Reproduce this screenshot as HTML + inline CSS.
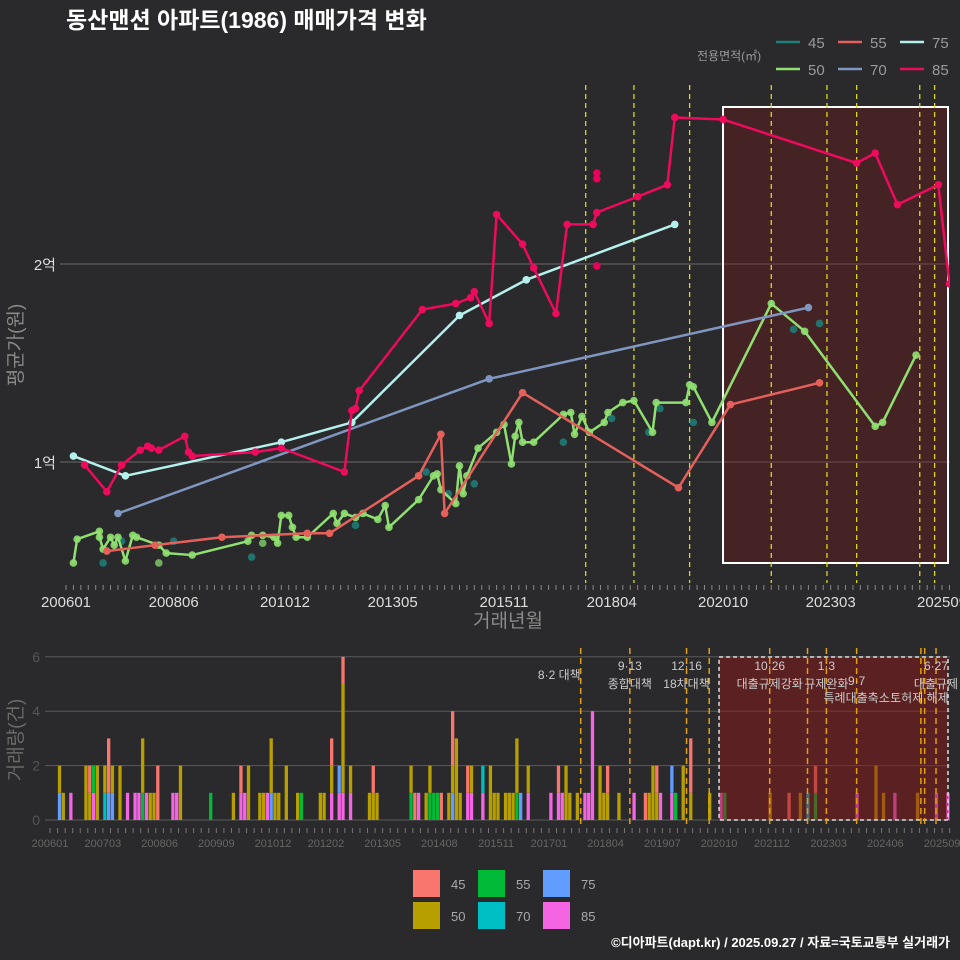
<!DOCTYPE html>
<html><head><meta charset="utf-8">
<style>
html,body{margin:0;padding:0;background:#2a292b;}
body{width:960px;height:960px;overflow:hidden;font-family:"Liberation Sans","Noto Sans CJK KR",sans-serif;}
svg{display:block}
</style></head>
<body>
<svg id="chart" width="960" height="960" viewBox="0 0 960 960" xmlns="http://www.w3.org/2000/svg" font-family="Liberation Sans, Noto Sans CJK KR, sans-serif">
<rect x="0" y="0" width="960" height="960" fill="#2a292b"/>
<text x="66" y="28" fill="#ffffff" font-size="23" font-weight="bold">동산맨션 아파트(1986) 매매가격 변화</text>
<text x="697" y="60" fill="#9a9a9a" font-size="12">전용면적(㎡)</text>
<g id="topLegend"></g>
<defs>
<clipPath id="topClip"><rect x="40" y="85" width="910" height="498"/></clipPath>
<clipPath id="botClip"><rect x="45" y="640" width="905" height="185"/></clipPath>
</defs>
<g id="topPanel"></g>
<g id="botPanel"></g>
<text transform="translate(22,345) rotate(-90)" text-anchor="middle" fill="#8a8a8a" font-size="19">평균가(원)</text>
<text x="508" y="627" text-anchor="middle" fill="#8a8a8a" font-size="19">거래년월</text>
<text transform="translate(22,740) rotate(-90)" text-anchor="middle" fill="#6a6a6a" font-size="19">거래량(건)</text>
<g id="botLegend"></g>
<text x="950" y="947" text-anchor="end" fill="#ffffff" font-size="13" font-weight="bold">©디아파트(dapt.kr) / 2025.09.27 / 자료=국토교통부 실거래가</text>
</svg>
<script>
// ---------- data (months since 2006-01, values in 억) ----------
const s85m=[5,11,15,20,22,23,25,32,33,34,51,58,75,77,78,79,96,105,109,110,114,116,123,126,132,135,142,143,154,162,164,177,213,218,224,235,238];
const s85v=[0.985,0.85,0.985,1.06,1.08,1.07,1.06,1.13,1.05,1.03,1.05,1.07,0.95,1.26,1.27,1.36,1.77,1.80,1.83,1.86,1.70,2.25,2.10,1.98,1.75,2.20,2.20,2.26,2.34,2.40,2.74,2.73,2.51,2.56,2.30,2.40,1.90];
const x85m=[143,143,143];
const x85v=[2.46,2.43,1.99];
const s75m=[2,16,58,77,106,124,164];
const s75v=[1.03,0.93,1.10,1.20,1.74,1.92,2.20];
const s70m=[14,114,200];
const s70v=[0.74,1.42,1.78];
const s55m=[11,24,42,65,71,95,101,102,123,165,179,203];
const s55v=[0.55,0.58,0.62,0.64,0.64,0.93,1.14,0.74,1.35,0.87,1.29,1.40];
const s50m=[2,3,9,9,10,12,13,14,16,18,19,25,27,34,49,50,53,56,57,58,60,61,62,65,72,73,75,78,80,84,86,87,95,99,100,101,105,106,107,108,111,116,118,120,121,122,123,126,134,136,137,139,141,145,146,150,153,158,159,167,168,169,174,190,199,218,220,229];
const s50v=[0.49,0.61,0.65,0.62,0.56,0.62,0.58,0.62,0.50,0.63,0.62,0.58,0.54,0.53,0.60,0.63,0.63,0.62,0.59,0.73,0.73,0.67,0.62,0.62,0.74,0.69,0.74,0.72,0.74,0.71,0.78,0.67,0.81,0.93,0.94,0.86,0.79,0.98,0.84,0.93,1.07,1.15,1.19,0.99,1.13,1.20,1.10,1.10,1.24,1.25,1.14,1.23,1.15,1.20,1.25,1.30,1.31,1.15,1.30,1.30,1.39,1.38,1.20,1.80,1.66,1.18,1.20,1.54];
const x50m=[25,53];
const x50v=[0.49,0.59];
const d45m=[10,15,29,50,78,97,103,110,134,147,157,160,169,196,203];
const d45v=[0.49,0.60,0.60,0.52,0.68,0.95,0.84,0.89,1.10,1.22,1.15,1.27,1.20,1.67,1.70];
const policyMonths=[140,153,168,190,205,213,230,234];
const extraBotLines=[174,200,231];
const topTickLabels=["200601","200806","201012","201305","201511","201804","202010","202303","202509"];
const topTickMonths=[0,29,59,88,118,147,177,206,236];
const yTickValues=[1,2];
const yTickLabels=["1억","2억"];
// volume
const barMonths=[2,3,5,9,10,11,12,14,15,16,18,20,22,23,24,25,26,27,28,32,33,34,42,48,50,51,52,55,56,57,58,59,60,62,65,66,71,72,74,76,77,79,84,85,86,95,96,97,99,100,101,102,103,105,106,107,108,110,111,114,116,117,118,120,121,122,123,124,126,132,134,135,136,137,139,141,142,143,145,146,147,150,154,157,158,159,160,161,164,165,167,169,174,177,178,190,195,198,200,202,213,218,220,223,229,234,237];
const b45=[0,0,0,0,1,0,0,0,2,0,0,0,0,0,0,0,0,0,2,0,0,0,0,0,1,0,0,0,0,0,0,0,0,0,0,0,0,0,1,0,1,0,0,1,0,0,1,0,0,0,0,0,1,0,2,0,0,1,0,0,0,0,0,0,0,0,0,0,0,0,1,0,0,0,0,0,0,0,0,0,1,0,0,1,0,0,1,0,0,0,0,2,0,0,0,0,1,0,0,1,0,0,0,0,0,0,0];
const b50=[1,1,0,2,1,0,2,1,0,1,2,0,0,0,2,0,1,1,0,0,0,2,0,1,0,0,2,1,1,0,2,1,1,2,1,0,1,1,1,0,4,1,1,1,1,1,0,0,1,1,0,0,0,1,1,3,1,0,1,0,2,1,1,1,1,1,2,0,1,0,0,0,2,1,1,0,0,0,2,1,1,1,0,0,1,2,1,0,0,0,2,1,1,0,0,1,0,1,0,0,0,2,1,0,1,0,0];
const b55=[0,0,0,0,0,1,0,0,0,0,0,0,0,0,1,0,0,0,0,0,0,0,1,0,0,0,0,0,0,0,0,0,0,0,0,1,0,0,0,0,0,0,0,0,0,1,0,0,0,1,1,1,0,0,0,0,0,0,0,0,0,0,0,0,0,0,1,0,0,0,0,0,0,0,0,0,0,0,0,0,0,0,0,0,0,0,0,0,0,1,0,0,0,0,1,0,0,0,0,1,0,0,0,0,0,0,0];
const b70=[0,0,0,0,0,0,0,1,0,0,0,0,0,0,0,0,0,0,0,0,0,0,0,0,0,0,0,0,0,0,0,0,0,0,0,0,0,0,0,0,0,0,0,0,0,0,0,0,0,0,0,0,0,0,0,0,0,0,0,1,0,0,0,0,0,0,0,0,0,0,0,0,0,0,0,0,0,0,0,0,0,0,0,0,0,0,0,0,0,0,0,0,0,0,0,0,0,0,1,0,0,0,0,0,0,0,0];
const b75=[1,0,0,0,0,0,0,0,1,1,0,0,0,0,0,0,0,0,0,0,0,0,0,0,0,0,0,0,0,0,1,0,0,0,0,0,0,0,0,1,0,0,0,0,0,0,0,0,0,0,0,0,0,0,1,0,0,0,0,0,0,0,0,0,0,0,0,1,0,0,0,0,0,0,0,0,0,0,0,0,0,0,0,0,0,0,0,0,1,0,0,0,0,0,0,0,0,0,0,0,0,0,0,0,0,0,0];
const b85=[0,0,1,0,0,1,0,0,0,0,0,1,1,1,0,1,0,0,0,1,1,0,0,0,1,1,0,0,0,1,0,0,0,0,0,0,0,0,1,1,1,1,0,0,0,0,0,1,0,0,0,0,0,0,0,0,0,1,1,1,0,0,0,0,0,0,0,0,1,1,1,1,0,0,0,1,1,4,0,0,0,0,1,0,0,0,0,1,1,0,0,0,0,1,0,0,0,0,0,0,1,0,0,1,0,1,1];
const volTicks=[0,2,4,6];
const botTickLabels=["200601","200703","200806","200909","201012","201202","201305","201408","201511","201701","201804","201907","202010","202112","202303","202406","202509"];
const botTickMonths=[0,14,29,44,59,73,88,103,118,132,147,162,177,191,206,221,236];
const annText1=["8·2 대책","9·13","12·16","10·26","1·3","9·7","6·27"];
const annText2=["","종합대책","18차대책","대출규제강화","규제완화","특례대출축소","대출규제"];
const annMonths=[140,153,168,190,205,213,234];
const shadeStart=177, shadeEnd=238;

const NS="http://www.w3.org/2000/svg";
function mk(tag,attrs,parent){const e=document.createElementNS(NS,tag);for(const k in attrs)e.setAttribute(k,attrs[k]);parent.appendChild(e);return e;}
const xT=m=>66+m*3.712;
const yT=v=>462-(v-1)*198;
const xB=m=>50+m*3.78;
const yB=c=>820-c*27.2;

// ---------- top panel ----------
const topG=document.getElementById('topPanel');
yTickValues.forEach((v,i)=>{
  const g=mk('line',{x1:60,x2:950,y1:yT(v),y2:yT(v),stroke:'#6a6a6a','stroke-width':1},topG);
  
  
  const t=mk('text',{x:56,y:yT(v)+6,'text-anchor':'end',fill:'#dddddd','font-size':15},topG);
  t.textContent=yTickLabels[i];
  
  
});
const tc=mk('g',{'clip-path':'url(#topClip)'},topG);
const shT=mk('rect',{x:xT(shadeStart),y:107,width:948-xT(shadeStart),height:456,fill:'rgba(120,25,25,0.35)',stroke:'#ffffff','stroke-width':2},tc);


policyMonths.forEach(m=>{
  const l=mk('line',{x1:xT(m),x2:xT(m),y1:85,y2:583,stroke:'#d8d820','stroke-width':1.3,'stroke-dasharray':'5,4'},tc);
  
  
});
function series(ms,vs,col,name,line,r,op){
  if(line){
    const p=mk('polyline',{points:ms.map((m,i)=>xT(m)+','+yT(vs[i])).join(' '),fill:'none',stroke:col,'stroke-width':2.5,'stroke-linejoin':'round'},tc);
    
    
  }
  ms.forEach((m,i)=>{
    const c=mk('circle',{cx:xT(m),cy:yT(vs[i]),r:r,fill:col,opacity:op},tc);
    
    
  });
}
series(d45m,d45v,'#1f7f7a','size-45',false,3.8,0.85);
series(x50m,x50v,'#7fd06a','size-50-extra',false,3.8,0.8);
series(s50m,s50v,'#8fe070','size-50',true,3.8,0.9);
series(s55m,s55v,'#e5605a','size-55',true,3.8,1);
series(s70m,s70v,'#7f96c0','size-70',true,3.8,1);
series(s75m,s75v,'#b4f0ec','size-75',true,3.8,1);
series(x85m,x85v,'#e8005a','size-85-extra',false,3.8,1);
series(s85m,s85v,'#ee0a5c','size-85',true,3.8,1);
for(let m=0;m<=238;m+=2){const t=mk('line',{x1:xT(m),x2:xT(m),y1:585,y2:590,stroke:'#888','stroke-width':1},topG);}
topTickLabels.forEach((s,i)=>{
  const t=mk('text',{x:xT(topTickMonths[i]),y:607,'text-anchor':'middle',fill:'#dddddd','font-size':15},topG);
  t.textContent=s;
  
  
});

// ---------- top legend ----------
const tl=document.getElementById('topLegend');
const legKeys=["45","55","75","50","70","85"];
const legCols=['#1f7f7a','#e5605a','#b4f0ec','#8fe070','#7f96c0','#ee0a5c'];
legKeys.forEach((k,i)=>{
  const col=i%3, row=Math.floor(i/3);
  const x=776+col*62, y=42+row*27;
  const l=mk('line',{x1:x,x2:x+24,y1:y,y2:y,stroke:legCols[i],'stroke-width':2.5},tl);
  
  
  const t=mk('text',{x:x+32,y:y+6,fill:'#9a9a9a','font-size':15},tl);
  t.textContent=k;
  
  
});

// ---------- bottom panel ----------
const botG=document.getElementById('botPanel');
volTicks.forEach(v=>{
  const g=mk('line',{x1:45,x2:950,y1:yB(v),y2:yB(v),stroke:'#5a5a5a','stroke-width':1},botG);
  
  
  const t=mk('text',{x:40,y:yB(v)+5,'text-anchor':'end',fill:'#555555','font-size':14},botG);
  t.textContent=v;
  
  
});
const bc=mk('g',{'clip-path':'url(#botClip)'},botG);
const stackKeys=[b85,b75,b70,b55,b50,b45];
const stackCols=['#F564E3','#619CFF','#00BFC4','#00BA38','#B79F00','#F8766D'];
const stackNames=['85','75','70','55','50','45'];
barMonths.forEach((m,i)=>{
  let base=0;
  stackKeys.forEach((arr,k)=>{
    const c=arr[i]; if(!c) return;
    const r=mk('rect',{x:xB(m)+0.3,y:yB(base+c),width:3.3,height:c*27.2,fill:stackCols[k]},bc);
    
    
    base+=c;
  });
});
const shB=mk('rect',{x:xB(shadeStart),y:657,width:948-xB(shadeStart),height:163,fill:'rgba(140,25,25,0.5)',stroke:'#dddddd','stroke-width':1.5,'stroke-dasharray':'4,3'},bc);


policyMonths.concat(extraBotLines).forEach(m=>{
  const l=mk('line',{x1:xB(m)+1.5,x2:xB(m)+1.5,y1:648,y2:830,stroke:'#e0a010','stroke-width':1.5,'stroke-dasharray':'6,4'},bc);
  
  
});
annMonths.forEach((m,i)=>{
  const x=xB(m)+1.5;
  const a=mk('text',{x:x,y:(i===0?679:(i===5?685:670)),'text-anchor':(i===0?'end':'middle'),fill:'#cccccc','font-size':12},botG);
  a.textContent=annText1[i];
  
  
  if(annText2[i]){
    const b=mk('text',{x:x,y:(i===5?702:688),'text-anchor':'middle',fill:'#cccccc','font-size':12},botG);
    b.textContent=annText2[i];
    
    
  }
});
const tx=mk('text',{x:xB(230),y:702,'text-anchor':'middle',fill:'#cccccc','font-size':12},botG);
tx.textContent='토허제 해제';


for(let m=0;m<=238;m+=2){const t=mk('line',{x1:xB(m),x2:xB(m),y1:828,y2:833,stroke:'#777','stroke-width':1},botG);}
botTickLabels.forEach((s,i)=>{
  const t=mk('text',{x:xB(botTickMonths[i]),y:847,'text-anchor':'middle',fill:'#666666','font-size':11},botG);
  t.textContent=s;
  
  
});

// ---------- bottom legend ----------
const bl=document.getElementById('botLegend');
const blKeys=["45","50","55","70","75","85"];
const blCols=['#F8766D','#B79F00','#00BA38','#00BFC4','#619CFF','#F564E3'];
blKeys.forEach((k,i)=>{
  const col=Math.floor(i/2), row=i%2;
  const x=413+col*65, y=870+row*32;
  const r=mk('rect',{x:x,y:y,width:27,height:27,fill:blCols[i]},bl);
  
  
  const t=mk('text',{x:x+38,y:y+19,fill:'#aaaaaa','font-size':13},bl);
  t.textContent=k;
  
  
});
</script>
</body></html>
